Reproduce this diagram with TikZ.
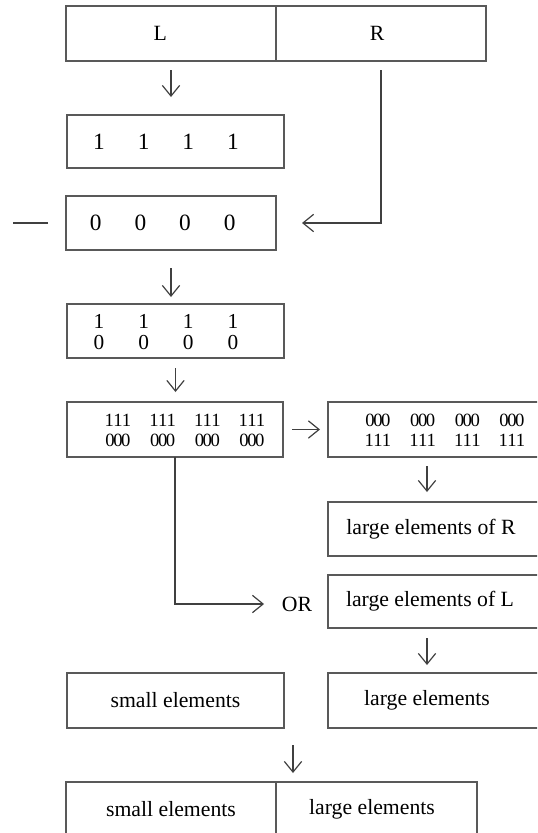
\documentclass[tikz,border=0pt]{standalone}
\usepackage{fontspec}
\setmainfont{Liberation Serif}
\usetikzlibrary{arrows.meta}
\newcommand{\qrow}[4]{\makebox[33.5pt]{#1}\makebox[33.5pt]{#2}\makebox[33.5pt]{#3}\makebox[33.5pt]{#4}}
\newcommand{\stk}[2]{\begin{tabular}{@{}c@{}}#1\\#2\end{tabular}}
\newcommand{\ooo}{0\kern-1.1pt0\kern-1.1pt0}
\newcommand{\lowerby}[2]{\raisebox{-#1}[\height][\depth]{#2}}
\begin{document}
\begin{tikzpicture}[x=0.75pt,y=-0.75pt,
  box/.style={draw=black!65, line width=1.2pt, rectangle, inner sep=0pt, outer sep=0pt,
    text=black, font=\fontsize{16.3}{18}\selectfont},
  dig/.style={font=\fontsize{17.5}{18}\selectfont},
  stkA/.style={font=\fontsize{16}{15}\selectfont},
  stkB/.style={font=\fontsize{14}{15}\selectfont},
  arr/.style={draw=black!75, line width=0.9pt, -{Straight Barb[length=8pt,width=13pt]}},
  ln/.style={draw=black!75, line width=0.9pt}]
\useasboundingbox (0,0) rectangle (537,833);
\clip (0,0) rectangle (537,833);

% top split box
\node[box, minimum width=157.5pt, minimum height=41.25pt] (L) at (171,33.5) {L\kern16pt};
\node[box, minimum width=157.5pt, minimum height=41.25pt] (R) at (381,33.5) {R\kern6pt};

% ones
\node[box, dig, minimum width=162.75pt, minimum height=39.75pt] (ones) at (175.5,141.5)
  {\qrow{1}{1}{1}{1}\kern14.25pt};
% zeros
\node[box, dig, minimum width=157.5pt, minimum height=40.5pt] (zeros) at (171,223)
  {\qrow{0}{0}{0}{0}\kern12.4pt};
% stacked 1/0
\node[box, stkA, minimum width=162.75pt, minimum height=40.5pt] (b4) at (175.5,331)
  {\lowerby{3pt}{\qrow{\stk{1}{0}}{\stk{1}{0}}{\stk{1}{0}}{\stk{1}{0}}\kern14.25pt}};
% 111/000
\node[box, stkB, minimum width=162pt, minimum height=41.25pt] (b5) at (175,429.5)
  {\lowerby{2.6pt}{\kern15pt\qrow{\stk{111}{\ooo}}{\stk{111}{\ooo}}{\stk{111}{\ooo}}{\stk{111}{\ooo}}}};
% 000/111
\node[box, stkB, minimum width=162pt, minimum height=41.25pt] (b6) at (436,429.5)
  {\lowerby{2.6pt}{\kern13.5pt\qrow{\stk{\ooo}{111}}{\stk{\ooo}{111}}{\stk{\ooo}{111}}{\stk{\ooo}{111}}}};

% right column
\node[box, minimum width=162pt, minimum height=40.5pt] (bR) at (436,529)
  {large elements of R\kern7.5pt};
\node[box, minimum width=162pt, minimum height=39.75pt] (bL) at (436,601.5)
  {large elements of L\kern9pt};
\node[inner sep=0pt, text=black, font=\fontsize{16.3}{18}\selectfont] (OR) at (297,604) {OR};

% lower row
\node[box, minimum width=162.75pt, minimum height=41.25pt] (small) at (175.5,700.5)
  {small elements};
\node[box, minimum width=162pt, minimum height=41.25pt] (large) at (436,700.5)
  {large elements\kern13.5pt};

% bottom split box
\node[box, minimum width=157.5pt, minimum height=41.25pt] (botL) at (171,809.5)
  {small elements};
\node[box, minimum width=150.75pt, minimum height=41.25pt] (botR) at (376.5,809.5)
  {large elements\kern6.75pt};

% connectors
\draw[arr, shorten <=6.75pt, shorten >=13.5pt] (L.south) -- (L.south |- ones.north);
\draw[arr, shorten <=6.75pt, shorten >=19.5pt] (R.south) |- (zeros.east);
\coordinate (dashL) at (13,223);
\draw[ln, shorten <=13.5pt] (zeros.west) -- (dashL);
\draw[arr, shorten <=13.5pt, shorten >=5.25pt] (zeros.south) -- (zeros.south |- b4.north);
\draw[arr, shorten <=7.5pt, shorten >=7.5pt] (b4.south) -- (b4.south |- b5.north);
\draw[arr, shorten <=6.75pt, shorten >=6pt] (b5.east) -- (b5.east -| b6.west);
\draw[arr, shorten <=6.75pt, shorten >=7.5pt] ([xshift=-6.75pt]b6.south) -- ([xshift=-6.75pt]b6.south |- bR.north);
\draw[arr, shorten >=13.2pt] (b5.south) |- (OR.west);
\draw[arr, shorten <=7.5pt, shorten >=6pt] ([xshift=-6.75pt]bL.south) -- ([xshift=-6.75pt]bL.south |- large.north);
\coordinate (t1) at (293,745);
\coordinate (t2) at (293,773);
\draw[arr] (t1) -- (t2);
\end{tikzpicture}
\end{document}
